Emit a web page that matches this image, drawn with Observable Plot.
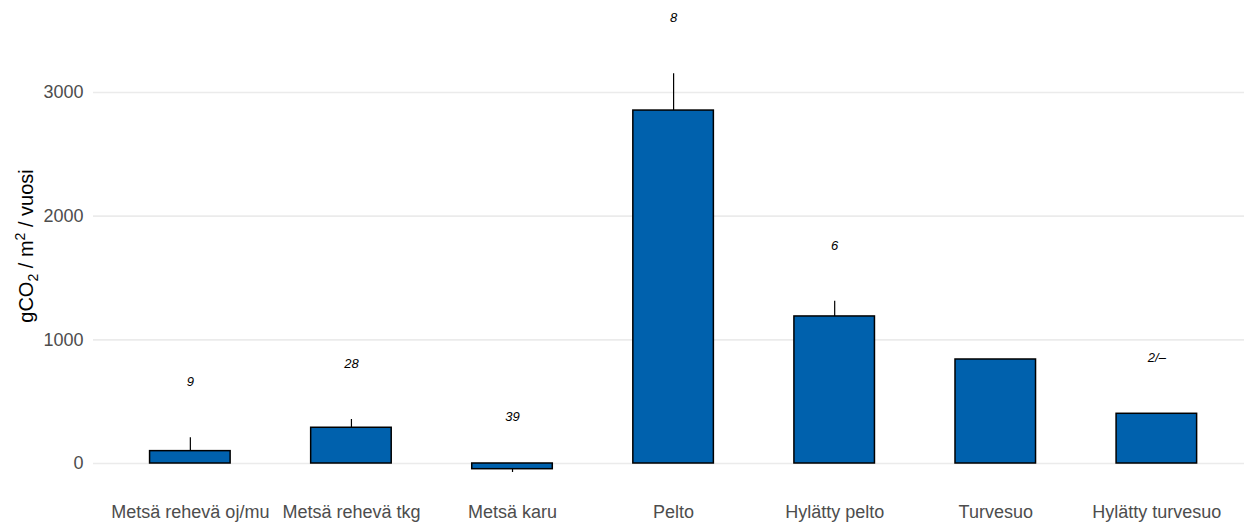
<!DOCTYPE html>
<html>
<head>
<meta charset="utf-8">
<script src="https://cdn.jsdelivr.net/npm/d3@7"></script>
<script src="https://cdn.jsdelivr.net/npm/@observablehq/plot@0.6"></script>
<style>
  html, body { margin: 0; padding: 0; background: #fff; }
  #chart svg { display: block; }
</style>
</head>
<body>
<div id="chart"></div>
<script>
const categories = ["Metsä rehevä oj/mu", "Metsä rehevä tkg", "Metsä karu", "Pelto", "Hylätty pelto", "Turvesuo", "Hylätty turvesuo"];
const means = [100, 289, -46, 2854, 1189, 841, 402];
const errEnds = [208, 356, -73, 3151, 1312, null, null];
const labels = ["9", "28", "39", "8", "6", "", "2/–"];
const labelY = [658, 806, 377, 3601, 1762, null, 852];
const yTicks = [0, 1000, 2000, 3000];

const rows = categories.map((c, i) => ({cat: c, mean: means[i], err: errEnds[i], label: labels[i], ly: labelY[i]}));

const W = 1244, H = 522;
const FONT = "'Liberation Sans', Arial, sans-serif";
const chart = Plot.plot({
  width: W,
  height: H,
  marginLeft: 93,
  marginRight: 0,
  marginTop: 0,
  marginBottom: 0,
  style: {fontFamily: FONT, background: "#fff"},
  x: {domain: categories, range: [93.2, 1253.0], paddingInner: 0.5, paddingOuter: 0.35, round: false, axis: null},
  y: {domain: [0, 3000], range: [463, 92], axis: null},
  marks: [
    Plot.ruleY(yTicks, {stroke: "#ebebeb", strokeWidth: 1.6}),
    Plot.text(yTicks, {x: () => categories[0], y: d => d, text: d => String(d), dx: -106.8, textAnchor: "end", fontSize: 18, fill: "#4d4d4d"}),
    Plot.text(categories, {x: d => d, y: 0, text: d => d, dy: 48.5, fontSize: 18, fill: "#4d4d4d"}),
    Plot.ruleX(rows.filter(d => d.err != null), {x: "cat", y1: "mean", y2: "err", stroke: "#000", strokeWidth: 1.2}),
    Plot.barY(rows, {x: "cat", y1: 0, y2: "mean", fill: "#0061ad", stroke: "#000", strokeWidth: 1.5}),
    Plot.text(rows.filter(d => d.label), {x: "cat", y: "ly", text: "label", fontSize: 13, fontStyle: "italic", fill: "#000"})
  ]
});
document.getElementById("chart").appendChild(chart);

// y-axis title with subscript / superscript
const svg = d3.select(chart);
const t = svg.append("text")
  .attr("transform", "translate(33,246) rotate(-90)")
  .attr("text-anchor", "middle")
  .attr("font-family", FONT)
  .attr("font-size", 20)
  .attr("fill", "#000");
t.append("tspan").text("gCO");
t.append("tspan").attr("font-size", 14).attr("dy", 5).text("2");
t.append("tspan").attr("dy", -5).text(" / m");
t.append("tspan").attr("font-size", 14).attr("dy", -8).text("2");
t.append("tspan").attr("dy", 8).text(" / vuosi");
</script>
</body>
</html>
